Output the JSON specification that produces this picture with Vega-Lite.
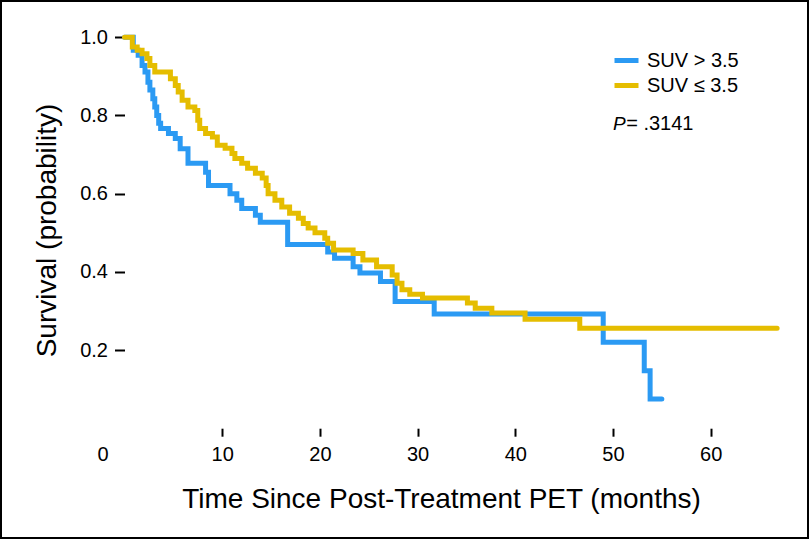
{
  "$schema": "https://vega.github.io/schema/vega-lite/v6.json",
  "width": 807,
  "height": 537,
  "padding": 1,
  "autosize": {"type": "none"},
  "background": "white",
  "config": {
    "view": {"stroke": "black", "strokeWidth": 2},
    "font": "Liberation Sans",
    "axis": {"labelColor": "black", "titleColor": "black", "tickColor": "black", "titleFontWeight": "normal", "grid": false, "domain": false, "labelFont": "Liberation Sans", "titleFont": "Liberation Sans"}
  },
  "datasets": {
    "km": [
      {"t": 0, "s": 1.0, "g": "SUV > 3.5"},
      {"t": 0.9, "s": 0.967, "g": "SUV > 3.5"},
      {"t": 1.4, "s": 0.954, "g": "SUV > 3.5"},
      {"t": 1.8, "s": 0.928, "g": "SUV > 3.5"},
      {"t": 2.1, "s": 0.911, "g": "SUV > 3.5"},
      {"t": 2.4, "s": 0.885, "g": "SUV > 3.5"},
      {"t": 2.6, "s": 0.865, "g": "SUV > 3.5"},
      {"t": 2.9, "s": 0.843, "g": "SUV > 3.5"},
      {"t": 3.1, "s": 0.822, "g": "SUV > 3.5"},
      {"t": 3.3, "s": 0.8, "g": "SUV > 3.5"},
      {"t": 3.5, "s": 0.78, "g": "SUV > 3.5"},
      {"t": 3.7, "s": 0.767, "g": "SUV > 3.5"},
      {"t": 4.5, "s": 0.754, "g": "SUV > 3.5"},
      {"t": 5.2, "s": 0.741, "g": "SUV > 3.5"},
      {"t": 5.7, "s": 0.715, "g": "SUV > 3.5"},
      {"t": 6.5, "s": 0.678, "g": "SUV > 3.5"},
      {"t": 8.3, "s": 0.655, "g": "SUV > 3.5"},
      {"t": 8.6, "s": 0.621, "g": "SUV > 3.5"},
      {"t": 10.8, "s": 0.6, "g": "SUV > 3.5"},
      {"t": 11.5, "s": 0.583, "g": "SUV > 3.5"},
      {"t": 12.0, "s": 0.562, "g": "SUV > 3.5"},
      {"t": 13.4, "s": 0.545, "g": "SUV > 3.5"},
      {"t": 13.9, "s": 0.527, "g": "SUV > 3.5"},
      {"t": 16.7, "s": 0.47, "g": "SUV > 3.5"},
      {"t": 20.8, "s": 0.451, "g": "SUV > 3.5"},
      {"t": 21.5, "s": 0.435, "g": "SUV > 3.5"},
      {"t": 23.4, "s": 0.413, "g": "SUV > 3.5"},
      {"t": 24.1, "s": 0.397, "g": "SUV > 3.5"},
      {"t": 26.2, "s": 0.375, "g": "SUV > 3.5"},
      {"t": 27.7, "s": 0.324, "g": "SUV > 3.5"},
      {"t": 31.7, "s": 0.292, "g": "SUV > 3.5"},
      {"t": 49.0, "s": 0.22, "g": "SUV > 3.5"},
      {"t": 53.2, "s": 0.147, "g": "SUV > 3.5"},
      {"t": 53.8, "s": 0.075, "g": "SUV > 3.5"},
      {"t": 55.0, "s": 0.075, "g": "SUV > 3.5"},
      {"t": 0, "s": 1.0, "g": "SUV ≤ 3.5"},
      {"t": 0.8, "s": 0.975, "g": "SUV ≤ 3.5"},
      {"t": 1.3, "s": 0.967, "g": "SUV ≤ 3.5"},
      {"t": 1.8, "s": 0.958, "g": "SUV ≤ 3.5"},
      {"t": 2.3, "s": 0.946, "g": "SUV ≤ 3.5"},
      {"t": 2.6, "s": 0.928, "g": "SUV ≤ 3.5"},
      {"t": 3.1, "s": 0.911, "g": "SUV ≤ 3.5"},
      {"t": 4.7, "s": 0.894, "g": "SUV ≤ 3.5"},
      {"t": 5.2, "s": 0.877, "g": "SUV ≤ 3.5"},
      {"t": 5.5, "s": 0.86, "g": "SUV ≤ 3.5"},
      {"t": 5.9, "s": 0.839, "g": "SUV ≤ 3.5"},
      {"t": 6.5, "s": 0.822, "g": "SUV ≤ 3.5"},
      {"t": 7.2, "s": 0.813, "g": "SUV ≤ 3.5"},
      {"t": 7.5, "s": 0.788, "g": "SUV ≤ 3.5"},
      {"t": 7.7, "s": 0.767, "g": "SUV ≤ 3.5"},
      {"t": 8.3, "s": 0.754, "g": "SUV ≤ 3.5"},
      {"t": 9.0, "s": 0.745, "g": "SUV ≤ 3.5"},
      {"t": 9.5, "s": 0.724, "g": "SUV ≤ 3.5"},
      {"t": 10.3, "s": 0.716, "g": "SUV ≤ 3.5"},
      {"t": 11.0, "s": 0.703, "g": "SUV ≤ 3.5"},
      {"t": 11.3, "s": 0.69, "g": "SUV ≤ 3.5"},
      {"t": 12.0, "s": 0.678, "g": "SUV ≤ 3.5"},
      {"t": 12.6, "s": 0.665, "g": "SUV ≤ 3.5"},
      {"t": 13.4, "s": 0.652, "g": "SUV ≤ 3.5"},
      {"t": 14.1, "s": 0.64, "g": "SUV ≤ 3.5"},
      {"t": 14.5, "s": 0.621, "g": "SUV ≤ 3.5"},
      {"t": 14.7, "s": 0.6, "g": "SUV ≤ 3.5"},
      {"t": 15.4, "s": 0.583, "g": "SUV ≤ 3.5"},
      {"t": 16.1, "s": 0.566, "g": "SUV ≤ 3.5"},
      {"t": 16.9, "s": 0.55, "g": "SUV ≤ 3.5"},
      {"t": 17.8, "s": 0.537, "g": "SUV ≤ 3.5"},
      {"t": 18.3, "s": 0.524, "g": "SUV ≤ 3.5"},
      {"t": 18.8, "s": 0.512, "g": "SUV ≤ 3.5"},
      {"t": 19.5, "s": 0.5, "g": "SUV ≤ 3.5"},
      {"t": 20.5, "s": 0.486, "g": "SUV ≤ 3.5"},
      {"t": 20.8, "s": 0.473, "g": "SUV ≤ 3.5"},
      {"t": 21.4, "s": 0.456, "g": "SUV ≤ 3.5"},
      {"t": 23.4, "s": 0.447, "g": "SUV ≤ 3.5"},
      {"t": 24.4, "s": 0.43, "g": "SUV ≤ 3.5"},
      {"t": 25.8, "s": 0.413, "g": "SUV ≤ 3.5"},
      {"t": 27.4, "s": 0.392, "g": "SUV ≤ 3.5"},
      {"t": 27.9, "s": 0.371, "g": "SUV ≤ 3.5"},
      {"t": 28.4, "s": 0.354, "g": "SUV ≤ 3.5"},
      {"t": 29.2, "s": 0.343, "g": "SUV ≤ 3.5"},
      {"t": 30.5, "s": 0.333, "g": "SUV ≤ 3.5"},
      {"t": 35.1, "s": 0.32, "g": "SUV ≤ 3.5"},
      {"t": 35.9, "s": 0.307, "g": "SUV ≤ 3.5"},
      {"t": 37.6, "s": 0.295, "g": "SUV ≤ 3.5"},
      {"t": 41.0, "s": 0.279, "g": "SUV ≤ 3.5"},
      {"t": 46.6, "s": 0.256, "g": "SUV ≤ 3.5"},
      {"t": 66.8, "s": 0.256, "g": "SUV ≤ 3.5"}
    ],
    "pnote": [{"t": 50.0, "s": 0.778, "label": "P"}],
    "pval": [{"t": 51.35, "s": 0.778, "label": "= .3141"}]
  },
  "layer": [
    {
      "mark": {"type": "rule", "stroke": "black", "strokeWidth": 2, "strokeCap": "square"},
      "encoding": {"x": {"datum": 0, "type": "quantitative"}, "y": {"datum": 0, "type": "quantitative"}, "y2": {"datum": 1.031}}
    },
    {
      "mark": {"type": "rule", "stroke": "black", "strokeWidth": 2, "strokeCap": "square"},
      "encoding": {"x": {"datum": 0, "type": "quantitative"}, "x2": {"datum": 67.9}, "y": {"datum": 0, "type": "quantitative"}}
    },
    {
      "data": {"name": "km"},
      "mark": {"type": "line", "interpolate": "step-after", "strokeWidth": 5, "strokeCap": "round", "strokeJoin": "miter"},
      "encoding": {
        "x": {
          "field": "t", "type": "quantitative",
          "scale": {"domain": [-12.64, 69.96], "nice": false, "zero": false},
          "axis": {
            "values": [0, 10, 20, 30, 40, 50, 60],
            "offset": -109.8,
            "tickSize": 8, "tickWidth": 2,
            "tickOpacity": {"condition": {"test": "datum.value === 0", "value": 0}, "value": 1},
            "labelOffset": {"condition": {"test": "datum.value === 0", "value": -22}, "value": 0},
            "labelFontSize": 20, "labelPadding": 24, "labelBaseline": "alphabetic",
            "labelFlush": false, "labelOverlap": false,
            "title": "Time Since Post-Treatment PET (months)",
            "titleFontSize": 28, "titleX": 440, "titleY": 79, "titleBaseline": "alphabetic"
          }
        },
        "y": {
          "field": "s", "type": "quantitative",
          "scale": {"domain": [-0.2809, 1.0929], "nice": false, "zero": false},
          "axis": {
            "values": [0.2, 0.4, 0.6, 0.8, 1.0],
            "format": ".1f",
            "offset": -123.5,
            "tickSize": 10, "tickWidth": 2,
            "labelFontSize": 20, "labelPadding": 7,
            "title": "Survival (probability)",
            "titleFontSize": 28, "titleX": -69.5, "titleY": 229, "titleBaseline": "alphabetic"
          }
        },
        "color": {
          "field": "g", "type": "nominal",
          "scale": {"domain": ["SUV > 3.5", "SUV ≤ 3.5"], "range": ["#2B9AF3", "#E5BD00"]},
          "legend": {
            "orient": "none", "legendX": 611, "legendY": 45, "title": null, "padding": 0,
            "symbolType": "stroke", "symbolSize": 576, "symbolStrokeWidth": 5,
            "labelFontSize": 20, "labelFont": "Liberation Sans", "labelColor": "black", "labelOffset": 6, "rowPadding": 0
          }
        }
      }
    },
    {
      "data": {"name": "pnote"},
      "mark": {"type": "text", "fontSize": 19, "fontStyle": "italic", "align": "left", "baseline": "middle", "color": "black"},
      "encoding": {
        "x": {"field": "t", "type": "quantitative"},
        "y": {"field": "s", "type": "quantitative"},
        "text": {"field": "label"}
      }
    },
    {
      "data": {"name": "pval"},
      "mark": {"type": "text", "fontSize": 20, "align": "left", "baseline": "middle", "color": "black"},
      "encoding": {
        "x": {"field": "t", "type": "quantitative"},
        "y": {"field": "s", "type": "quantitative"},
        "text": {"field": "label"}
      }
    }
  ]
}
